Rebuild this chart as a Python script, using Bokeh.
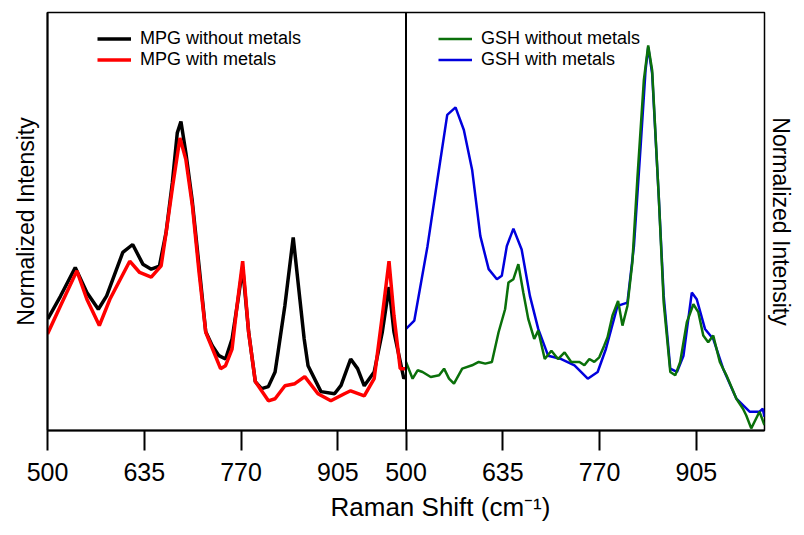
from bokeh.plotting import figure
from bokeh.models import (Range1d, LinearAxis, FixedTicker, Legend, LegendItem,
                          Span, Title)
from bokeh.embed import file_html
from bokeh.resources import INLINE

# ---------------- data ----------------
# Left panel: MPG
mpg_wo_x = [500.4, 518, 538.7, 554.9, 570.9, 582.5, 605, 618.8, 633, 644.7, 656,
            665.4, 674.1, 681, 686.1, 693, 701.7, 711.4, 720.7, 729.8, 739.1,
            748.3, 757.4, 765.5, 772.2, 780.5, 789.8, 798.5, 808, 817.4, 821.6,
            831, 842.7, 852, 858, 863.4, 881.4, 900.3, 909.4, 922.8, 932.5,
            941.8, 955.6, 967, 976.3, 983.2, 997, 998.8]
mpg_wo_y = [0.267, 0.321, 0.390, 0.330, 0.290, 0.322, 0.426, 0.445, 0.398, 0.386,
            0.393, 0.474, 0.593, 0.712, 0.739, 0.664, 0.552, 0.393, 0.236, 0.203,
            0.179, 0.171, 0.219, 0.310, 0.390, 0.236, 0.117, 0.100, 0.105, 0.140,
            0.188, 0.298, 0.462, 0.314, 0.219, 0.155, 0.093, 0.088, 0.108, 0.171,
            0.148, 0.107, 0.140, 0.236, 0.343, 0.236, 0.124, 0.129]

mpg_w_x = [500, 518, 541, 554.9, 572.3, 587, 614.7, 628.5, 644.7, 658.5, 665.4,
           674.5, 684.7, 693, 702.2, 711.4, 720.7, 741.4, 748.3, 757.4, 764.3,
           772.2, 780.5, 789.8, 808.1, 817.4, 831.2, 845, 858.8, 877.2, 895.2,
           914.1, 922.8, 941.8, 955.6, 967, 976.3, 983.2, 991.9, 998.8]
mpg_w_y = [0.231, 0.298, 0.382, 0.314, 0.251, 0.314, 0.405, 0.378, 0.367, 0.394,
           0.473, 0.584, 0.700, 0.648, 0.536, 0.378, 0.235, 0.148, 0.155, 0.195,
           0.298, 0.405, 0.235, 0.117, 0.071, 0.076, 0.107, 0.112, 0.129, 0.088,
           0.071, 0.088, 0.095, 0.083, 0.124, 0.275, 0.405, 0.275, 0.148, 0.148]

# Right panel: GSH
gsh_w_x = [500, 511.6, 530, 543.8, 557.5, 569.1, 580.7, 592.2, 603.7, 615.3,
           626.8, 633.6, 640.6, 649.8, 661.3, 672.8, 684.4, 698.2, 716.6, 735,
           753.5, 767.3, 778.8, 795, 808.8, 817.9, 827.2, 834.1, 837.8, 843.3,
           852.5, 859.4, 868.6, 877.9, 887, 898.6, 905.5, 917, 928.5, 942.3,
           960.8, 979.2, 993, 997.6, 999.9]
gsh_w_y = [0.243, 0.263, 0.441, 0.600, 0.755, 0.773, 0.719, 0.624, 0.465, 0.386,
           0.362, 0.370, 0.441, 0.483, 0.433, 0.322, 0.243, 0.179, 0.171, 0.156,
           0.124, 0.140, 0.195, 0.298, 0.306, 0.441, 0.679, 0.862, 0.917, 0.854,
           0.560, 0.322, 0.148, 0.140, 0.179, 0.330, 0.314, 0.243, 0.219, 0.148,
           0.076, 0.045, 0.045, 0.052, 0.033]

gsh_wo_x = [500, 509.2, 516.2, 523.1, 534.5, 546.2, 553.1, 560, 566.9, 578.4,
            592.2, 601.4, 610.6, 619.8, 629.1, 638.2, 642.9, 649.8, 656.7, 663.6,
            670.5, 678.8, 684.4, 693.5, 702.8, 712, 721.2, 730.4, 741.9, 748.8,
            755.7, 762.6, 769.5, 776.4, 781.1, 788, 795.8, 801.9, 808.8, 815.7,
            822.6, 831.7, 837.8, 843.3, 852.5, 859.4, 868.6, 875.5, 882.4, 891.7,
            900.8, 907.7, 914.6, 921.5, 928.5, 937.7, 946.9, 960.8, 970, 974.6,
            981.5, 986.1, 993, 999.9]
gsh_wo_y = [0.164, 0.124, 0.144, 0.140, 0.128, 0.132, 0.148, 0.124, 0.112, 0.148,
            0.156, 0.164, 0.160, 0.164, 0.235, 0.290, 0.354, 0.362, 0.398, 0.330,
            0.267, 0.219, 0.239, 0.171, 0.191, 0.171, 0.187, 0.164, 0.164, 0.156,
            0.171, 0.164, 0.175, 0.203, 0.223, 0.275, 0.310, 0.251, 0.298, 0.402,
            0.600, 0.838, 0.921, 0.862, 0.560, 0.306, 0.140, 0.132, 0.164, 0.259,
            0.302, 0.283, 0.227, 0.211, 0.227, 0.164, 0.132, 0.076, 0.052, 0.036,
            0.005, 0.021, 0.045, 0.013]

tick_values = [500, 635, 770, 905]
panel_start, panel_end = 500, 1000

FONT = "Liberation Sans"

# ---------------- figure ----------------
span = panel_end - panel_start
p = figure(width=796, height=527, output_backend="svg", toolbar_location=None,
           x_range=Range1d(panel_start, panel_end + span), y_range=Range1d(0, 1),
           min_border_left=47, min_border_right=27, min_border_top=12,
           min_border_bottom=95)
p.extra_x_ranges = {"gsh": Range1d(panel_start - span, panel_end)}
p.background_fill_color = "white"
p.border_fill_color = "white"
p.xgrid.visible = False
p.ygrid.visible = False
p.outline_line_color = "black"
p.outline_line_width = 1.5

r_mpg_wo = p.line(mpg_wo_x, mpg_wo_y, line_color="black", line_width=3.5)
r_mpg_w = p.line(mpg_w_x, mpg_w_y, line_color="#ff0000", line_width=3.5)
r_gsh_w = p.line(gsh_w_x, gsh_w_y, line_color="#0000dd", line_width=2.5,
                 x_range_name="gsh")
r_gsh_wo = p.line(gsh_wo_x, gsh_wo_y, line_color="#0a700a", line_width=2.5,
                  x_range_name="gsh")

# divider between panels
p.add_layout(Span(location=panel_end, dimension="height", line_color="black",
                  line_width=2))

# bottom axis
all_ticks = tick_values + [t + span for t in tick_values]
xa = p.xaxis[0]
xa.ticker = FixedTicker(ticks=all_ticks)
overrides = {t: str(t) for t in tick_values}
overrides.update({t + span: str(t) for t in tick_values})
xa.major_label_overrides = overrides
xa.major_tick_out = 20
xa.major_tick_in = 0
xa.major_tick_line_width = 2
xa.minor_tick_line_color = None
xa.axis_line_width = 2
xa.major_label_text_font = FONT
xa.major_label_text_font_size = "25px"
xa.major_label_text_color = "black"
xa.major_label_standoff = 12

# left axis
ya = p.yaxis[0]
ya.ticker = FixedTicker(ticks=[])
ya.axis_line_width = 2
ya.axis_label = "Normalized Intensity"
ya.axis_label_text_font = FONT
ya.axis_label_text_font_size = "23px"
ya.axis_label_text_font_style = "normal"
ya.axis_label_text_color = "black"
ya.axis_label_standoff = 9

# right axis
ra = LinearAxis(ticker=FixedTicker(ticks=[]), axis_label="Normalized Intensity",
                axis_line_color=None)
ra.axis_label_text_font = FONT
ra.axis_label_text_font_size = "23px"
ra.axis_label_text_font_style = "normal"
ra.axis_label_text_color = "black"
ra.axis_label_standoff = 3
p.add_layout(ra, "right")

# x axis title spanning both panels
p.add_layout(Title(text="Raman Shift (cm\u207b\u00b9)", align="left", offset=283,
                   text_font=FONT, text_font_size="26px", text_font_style="normal",
                   text_color="black", standoff=12), "below")

# legends
def make_legend(items, loc):
    lg = Legend(items=items, location=loc)
    lg.border_line_color = None
    lg.background_fill_alpha = 0
    lg.padding = 0
    lg.margin = 0
    lg.spacing = 0
    lg.glyph_width = 34
    lg.glyph_height = 21
    lg.label_height = 21
    lg.label_standoff = 9
    lg.label_text_font = FONT
    lg.label_text_font_size = "18px"
    lg.label_text_color = "black"
    return lg

p.add_layout(make_legend([LegendItem(label="MPG without metals", renderers=[r_mpg_wo]),
                          LegendItem(label="MPG with metals", renderers=[r_mpg_w])],
                         (50, 360)))
p.add_layout(make_legend([LegendItem(label="GSH without metals", renderers=[r_gsh_wo]),
                          LegendItem(label="GSH with metals", renderers=[r_gsh_w])],
                         (391, 360)))

open("out.html", "w").write(file_html(p, INLINE))
